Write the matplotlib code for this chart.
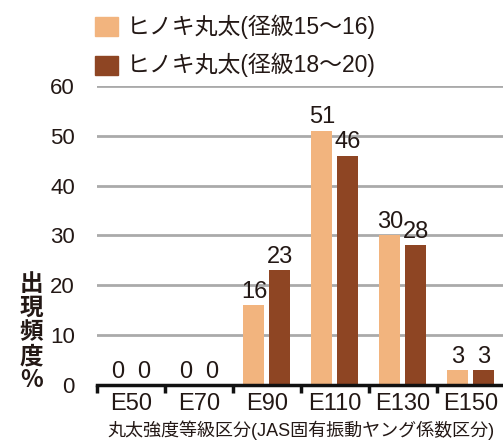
import numpy as np
import matplotlib.pyplot as plt

plt.rcParams['font.family'] = ['Liberation Sans', 'Noto Sans CJK JP', 'DejaVu Sans']

categories = ['E50', 'E70', 'E90', 'E110', 'E130', 'E150']
series_names = ['ヒノキ丸太(径級15～16)', 'ヒノキ丸太(径級18～20)']
vals_small = [0, 0, 16, 51, 30, 3]
vals_large = [0, 0, 23, 46, 28, 3]
colors = ['#F2B47E', '#8E4523']

fig = plt.figure(figsize=(5.03, 4.41), dpi=100)
ax = fig.add_axes([0.193, 0.127, 0.81, 0.678])

x = np.arange(len(categories))
w = 0.31
off = 0.19
b1 = ax.bar(x - off, vals_small, w, color=colors[0], zorder=2)
b2 = ax.bar(x + off, vals_large, w, color=colors[1], zorder=2)

for bars, vals in [(b1, vals_small), (b2, vals_large)]:
    for r, v in zip(bars, vals):
        ax.text(r.get_x() + r.get_width() / 2, v + 0.5, str(v),
                ha='center', va='bottom', fontsize=17, color='#231815')

ax.set_xlim(-0.5, len(categories) - 0.5)
ax.set_ylim(0, 60)
ax.set_yticks(range(0, 61, 10))
ax.yaxis.grid(True, color='#aaaaaa', linewidth=2)
ax.set_axisbelow(True)
for s in ['top', 'right', 'left']:
    ax.spines[s].set_visible(False)
ax.spines['bottom'].set_linewidth(2.5)
ax.spines['bottom'].set_color('#111111')

ax.set_xticks(x)
ax.set_xticklabels(categories, fontsize=17, color='#231815')
ax.tick_params(axis='x', length=0, pad=6)
ax.set_xticks(np.arange(-0.5, len(categories), 1), minor=True)
ax.tick_params(axis='x', which='minor', length=6, width=2.5, color='#111111', direction='out')
ax.tick_params(axis='y', length=0, labelsize=16, labelcolor='#231815', pad=16)

ax.set_xlabel('丸太強度等級区分(JAS固有振動ヤング係数区分)', fontsize=13, color='#231815', labelpad=4)

fig.text(0.062, 0.247, '出\n現\n頻\n度\n%', ha='center', va='center', fontsize=17,
         fontweight='bold', color='#231815', linespacing=1.0,
         family=['Noto Sans CJK JP', 'DejaVu Sans'])

# legend
for i, (name, c) in enumerate(zip(series_names, colors)):
    y = 0.94 - i * 0.088
    fig.patches.append(plt.Rectangle((0.189, y - 0.022), 0.046, 0.044, color=c,
                                     transform=fig.transFigure, figure=fig))
    fig.text(0.252, y, name, ha='left', va='center', fontsize=16.5, color='#231815')

fig.savefig('out.png', dpi=100)
